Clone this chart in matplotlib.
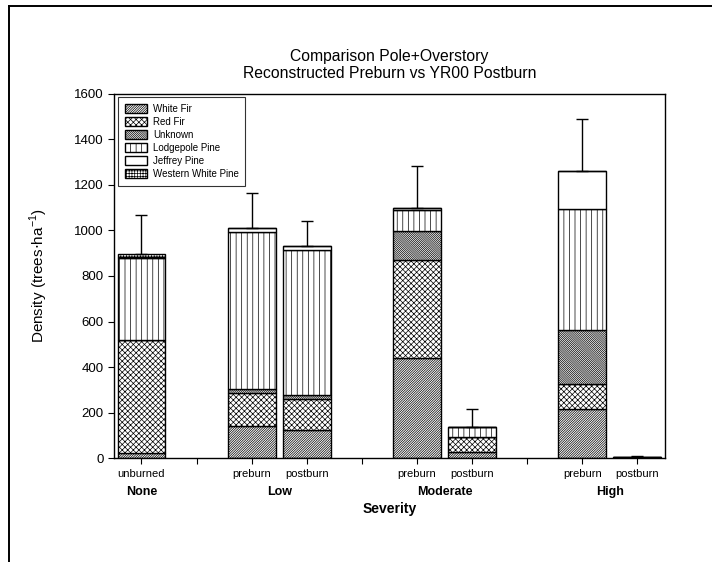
import matplotlib
matplotlib.use("Agg")
import matplotlib.pyplot as plt
from matplotlib.lines import Line2D
import numpy as np

plt.rcParams['font.family'] = ['Liberation Sans', 'DejaVu Sans']
plt.rcParams['hatch.linewidth'] = 0.5

positions = [0, 2, 3, 5, 6, 8, 9]
tick_labels = ["unburned", "", "preburn", "postburn", "", "preburn", "postburn", "", "preburn", "postburn"]
groups = ["None", "Low", "Moderate", "High"]
group_centers = [0, 2.5, 5.5, 8.5]

species = ["White Fir", "Red Fir", "Unknown", "Lodgepole Pine", "Jeffrey Pine", "Western White Pine"]
white_fir = [22, 140, 124, 440, 29, 215, 3]
red_fir = [498, 145, 135, 429, 66, 109, 0]
unknown = [0, 20, 20, 127, 0, 239, 0]
lodgepole = [360, 688, 636, 94, 44, 530, 2]
jeffrey = [2, 19, 15, 7, 0, 169, 0]
western_white = [13, 0, 0, 0, 0, 0, 0]
error_upper = [173, 151, 113, 186, 77, 228, 5]

series = [white_fir, red_fir, unknown, lodgepole, jeffrey, western_white]
hatches = ['/' * 14, 'x' * 6, '\\' * 16, '|||', '', '+' * 6]

fig = plt.figure(figsize=(7.12, 5.62), dpi=100)
ax = fig.add_axes([0.160, 0.1845, 0.774, 0.649])

bottom = np.zeros(len(positions))
for name, vals, h in zip(species, series, hatches):
    ax.bar(positions, vals, width=0.87, bottom=bottom, color='white',
           edgecolor='black', hatch=h, linewidth=1.0, label=name)
    bottom += np.array(vals)

ax.errorbar(positions, bottom, yerr=[np.zeros(len(positions)), error_upper],
            fmt='none', ecolor='black', elinewidth=1.0, capsize=4, capthick=1.0)

ax.set_xlim(-0.5, 9.5)
ax.set_ylim(0, 1600)
ax.set_yticks(range(0, 1601, 200))
ax.set_xticks(range(10))
ax.set_xticklabels(tick_labels, fontsize=8,
                   family=['Liberation Sans Narrow', 'Liberation Sans'])
ax.tick_params(axis='y', labelsize=9.5, direction='out', length=4, width=0.8)
ax.tick_params(axis='x', direction='out', length=4, width=0.8, pad=4)
for s in ax.spines.values():
    s.set_linewidth(1.0)

for g, c in zip(groups, group_centers):
    ax.text(c, -0.075, g, transform=ax.get_xaxis_transform(), ha='center', va='top',
            fontsize=9, fontweight='bold')
ax.text(0.5, -0.12, "Severity", transform=ax.transAxes, ha='center', va='top',
        fontsize=10, fontweight='bold')

ax.set_ylabel(r"Density (trees$\cdot$ha$^{\mathregular{-1}}$)", fontsize=11, labelpad=17)

fig.text(0.547, 0.884, "Comparison Pole+Overstory\nReconstructed Preburn vs YR00 Postburn",
         ha='center', va='center', fontsize=11.3, linespacing=1.15)

leg = ax.legend(loc='upper left', fontsize=7, frameon=True, fancybox=False,
                edgecolor='black', handlelength=2.3, handleheight=1.05,
                borderaxespad=0.4, labelspacing=0.3, handletextpad=0.6,
                borderpad=0.7)
leg.get_frame().set_linewidth(0.8)

fig.add_artist(Line2D([0.012, 1.0], [0.990, 0.990], transform=fig.transFigure,
                      color='black', linewidth=1.4))
fig.add_artist(Line2D([0.012, 0.012], [0.0, 0.990], transform=fig.transFigure,
                      color='black', linewidth=1.4))

fig.savefig("out.png", dpi=100)
